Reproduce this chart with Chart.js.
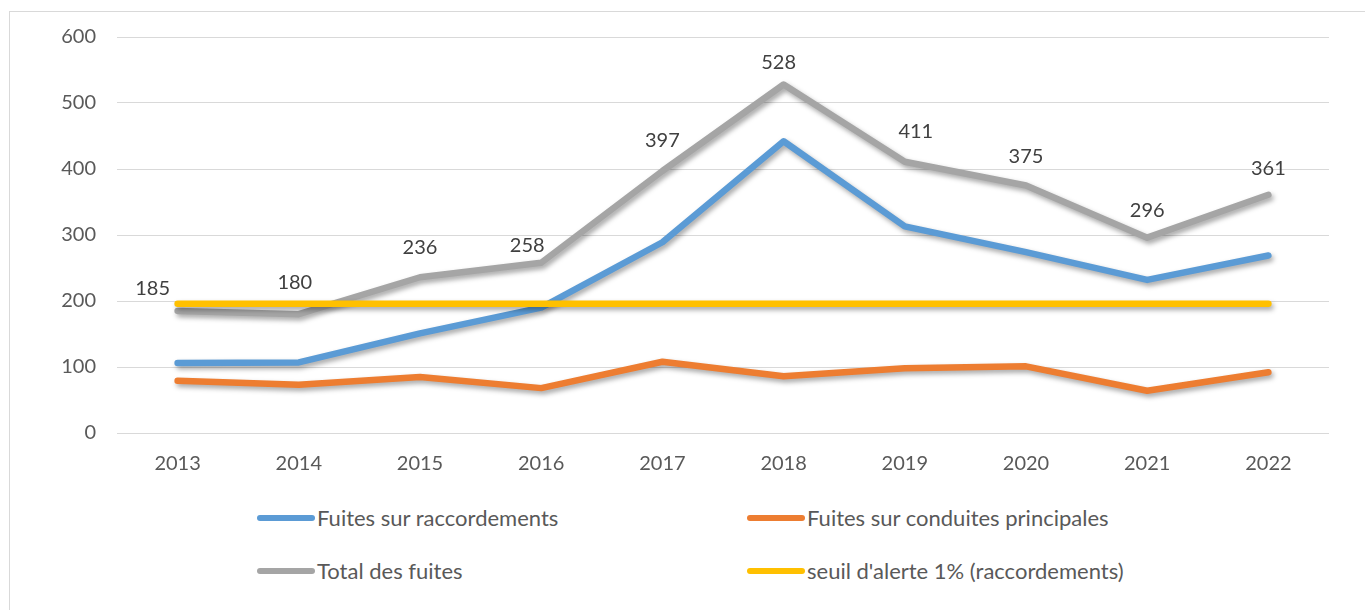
<!DOCTYPE html>
<html>
<head>
<meta charset="utf-8">
<script src="https://cdn.jsdelivr.net/npm/chart.js@4"></script>
<style>
body{margin:0;background:#fff;font-family:Lato,"Open Sans",sans-serif;}
#frame{position:absolute;left:9px;top:11px;width:1400px;height:700px;border:1px solid #d9d9d9;}
#wrap{position:absolute;left:0;top:0;width:1365px;height:480px;}
.leg{position:absolute;font-size:22px;color:#595959;display:flex;align-items:center;}
.leg span.sw{display:inline-block;width:58px;height:6px;border-radius:3px;margin-right:2px;}
</style>
</head>
<body>
<div id="frame"></div>
<div id="wrap"><canvas id="fuiteschart"></canvas></div>
<div class="leg" style="left:257px;top:504px"><span class="sw" style="background:#5b9bd5"></span>Fuites sur raccordements</div>
<div class="leg" style="left:747px;top:504px"><span class="sw" style="background:#ed7d31"></span>Fuites sur conduites principales</div>
<div class="leg" style="left:257px;top:557px"><span class="sw" style="background:#a5a5a5"></span>Total des fuites</div>
<div class="leg" style="left:747px;top:557px"><span class="sw" style="background:#ffc000"></span>seuil d'alerte 1% (raccordements)</div>
<script>
var annees=['2013','2014','2015','2016','2017','2018','2019','2020','2021','2022']
var raccordements=[106,107,151,190,289,442,313,274,232,269]
var conduites=[79,73,85,68,108,86,98,101,64,92]
var total=[185,180,236,258,397,528,411,375,296,361]
var seuil=[196,196,196,196,196,196,196,196,196,196]

// ombre sous les lignes, comme dans excel
var ombre={
    id:'ombre',
    beforeDatasetDraw:function(chart){
        var c=chart.ctx
        c.save()
        c.shadowColor='rgba(0,0,0,0.35)'
        c.shadowBlur=5
        c.shadowOffsetX=2
        c.shadowOffsetY=3
    },
    afterDatasetDraw:function(chart){
        chart.ctx.restore()
    }
}
// etiquettes du total (decalages comme sur le graphique d'origine)
var etiquettes={
    id:'etiquettes',
    afterDatasetsDraw:function(chart){
        var c=chart.ctx
        var meta=chart.getDatasetMeta(2)
        var dec=[[-25,-22],[-4,-32],[0,-30],[-14,-17],[0,-30],[-5,-22],[11,-30],[0,-29],[0,-27],[0,-26]]
        c.save()
        c.font='20px Lato'
        c.fillStyle='#404040'
        c.textAlign='center'
        c.textBaseline='middle'
        meta.data.forEach(function(p,i){
            c.fillText(total[i],p.x+dec[i][0],p.y+dec[i][1])
        })
        c.restore()
    }
}
var ctx=document.getElementById('fuiteschart').getContext('2d')
var myChart=new Chart(ctx,{
    type:'line',
    data:{
        labels:annees,
        datasets:[{
            label:'Fuites sur raccordements',
            data:raccordements,
            borderColor:'#5b9bd5',
            order:2
        },{
            label:'Fuites sur conduites principales',
            data:conduites,
            borderColor:'#ed7d31',
            order:3
        },{
            label:'Total des fuites',
            data:total,
            borderColor:'#a5a5a5',
            order:4
        },{
            label:"seuil d'alerte 1% (raccordements)",
            data:seuil,
            borderColor:'#ffc000',
            order:1
        }]
    },
    options:{
        responsive:true,
        maintainAspectRatio:false,
        animation:false,
        elements:{
            line:{borderWidth:6.5,borderCapStyle:'round',borderJoinStyle:'round',tension:0},
            point:{radius:0,hoverRadius:0}
        },
        layout:{padding:{top:37,right:36,left:0,bottom:0}},
        plugins:{legend:{display:false},tooltip:{enabled:false}},
        scales:{
            x:{
                offset:true,
                grid:{display:false,drawTicks:false},
                border:{display:false},
                ticks:{color:'#595959',font:{family:'Lato',size:20},padding:19,maxRotation:0},
                afterFit:function(s){s.height=47}
            },
            y:{
                min:0,max:600,
                grid:{color:'#d9d9d9',lineWidth:1,drawTicks:false},
                border:{display:false},
                ticks:{stepSize:100,color:'#595959',font:{family:'Lato',size:20},padding:21},
                afterFit:function(s){s.width=117}
            }
        }
    },
    plugins:[ombre,etiquettes]
})
</script>
</body>
</html>
